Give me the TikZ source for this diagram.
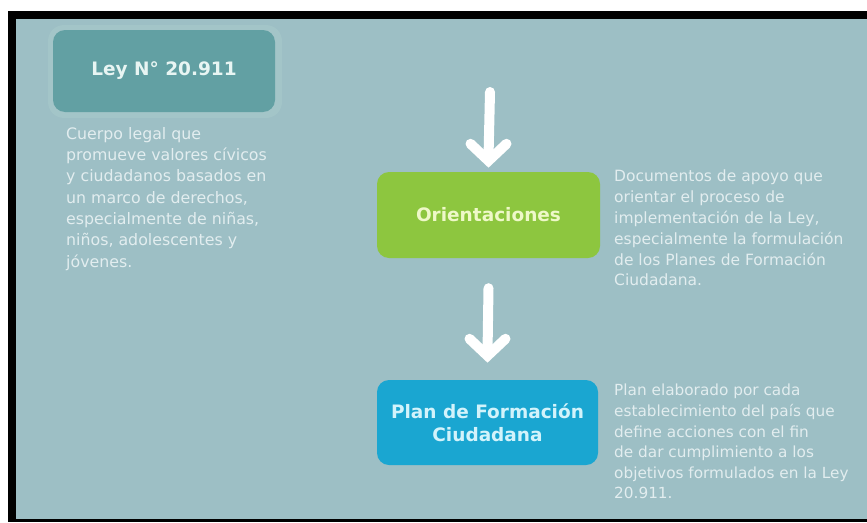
\documentclass[tikz,border=0pt]{standalone}
\usepackage{fontspec}
\setmainfont{DejaVu Sans}
\usetikzlibrary{calc}
\definecolor{bgc}{HTML}{9DBFC5}
\definecolor{leyc}{HTML}{62A0A3}
\definecolor{halo}{HTML}{A3C5C8}
\definecolor{grn}{HTML}{8DC63F}
\definecolor{blu}{HTML}{1AA6D1}
\definecolor{bodyt}{HTML}{E2EDEF}
\definecolor{leyt}{HTML}{E8F5F3}
\definecolor{grnt}{HTML}{EEF8C8}
\definecolor{blut}{HTML}{D2F3FB}
\tikzset{
  titlebox/.style={rounded corners=12pt, inner sep=0pt, align=center,
    font={\fontsize{18.5}{23}\selectfont\bfseries}},
  bodytext/.style={anchor=north west, inner sep=0pt, align=left, text=bodyt},
  bigarrow/.style={draw=white, line width=10pt, line cap=round, line join=miter}
}
\begin{document}
\begin{tikzpicture}[x=1pt,y=-1pt]
\useasboundingbox (0,0) rectangle (867,522);
\fill[white] (0,0) rectangle (867,522);
\fill[black] (8,11) rectangle (867,522);
\fill[bgc] (16,19) rectangle (867,519);
% boxes
\fill[halo, rounded corners=16pt] (48,25) rectangle (282,118);
\node[titlebox, fill=leyc, text=leyt, minimum width=222pt, minimum height=82pt] (ley) at (164,71) {Ley N° 20.911};
\node[titlebox, fill=grn, text=grnt, minimum width=223pt, minimum height=86pt] (ori) at (488.5,215) {Orientaciones};
\node[titlebox, fill=blu, text=blut, minimum width=221pt, minimum height=85pt] (plan) at (487.5,422.5) {Plan de Formación\\Ciudadana};
% body texts
\node[bodytext, font={\fontsize{15.8}{21.3}\selectfont}] (t1) at (66,127) {Cuerpo legal que\\promueve valores cívicos\\y ciudadanos basados en\\un marco de derechos,\\especialmente de niñas,\\niños, adolescentes y\\jóvenes.};
\node[bodytext, font={\fontsize{15.5}{20.8}\selectfont}] (t2) at (614,170) {Documentos de apoyo que\\orientar el proceso de\\implementación de la Ley,\\especialmente la formulación\\de los Planes de Formación\\Ciudadana.};
\node[bodytext, font={\fontsize{15.3}{20.6}\selectfont}] (t3) at (614,384) {Plan elaborado por cada\\establecimiento del país que\\define acciones con el fin\\de dar cumplimiento a los\\objetivos formulados en la Ley\\20.911.};
% arrows
\coordinate (a1top) at (490,92);
\coordinate (a1tip) at ([yshift=11pt]ori.north);
\draw[bigarrow] (a1top) -- ([yshift=3pt]a1tip);
\draw[bigarrow] ($(a1tip)+(-18,-17)$) -- (a1tip) -- ($(a1tip)+(18,-17)$);
\coordinate (a2top) at ([yshift=-30pt]ori.south);
\coordinate (a2tip) at ([yshift=24pt]plan.north);
\draw[bigarrow] (a2top) -- ([yshift=3pt]a2tip);
\draw[bigarrow] ($(a2tip)+(-18,-17)$) -- (a2tip) -- ($(a2tip)+(18,-17)$);
\end{tikzpicture}
\end{document}
